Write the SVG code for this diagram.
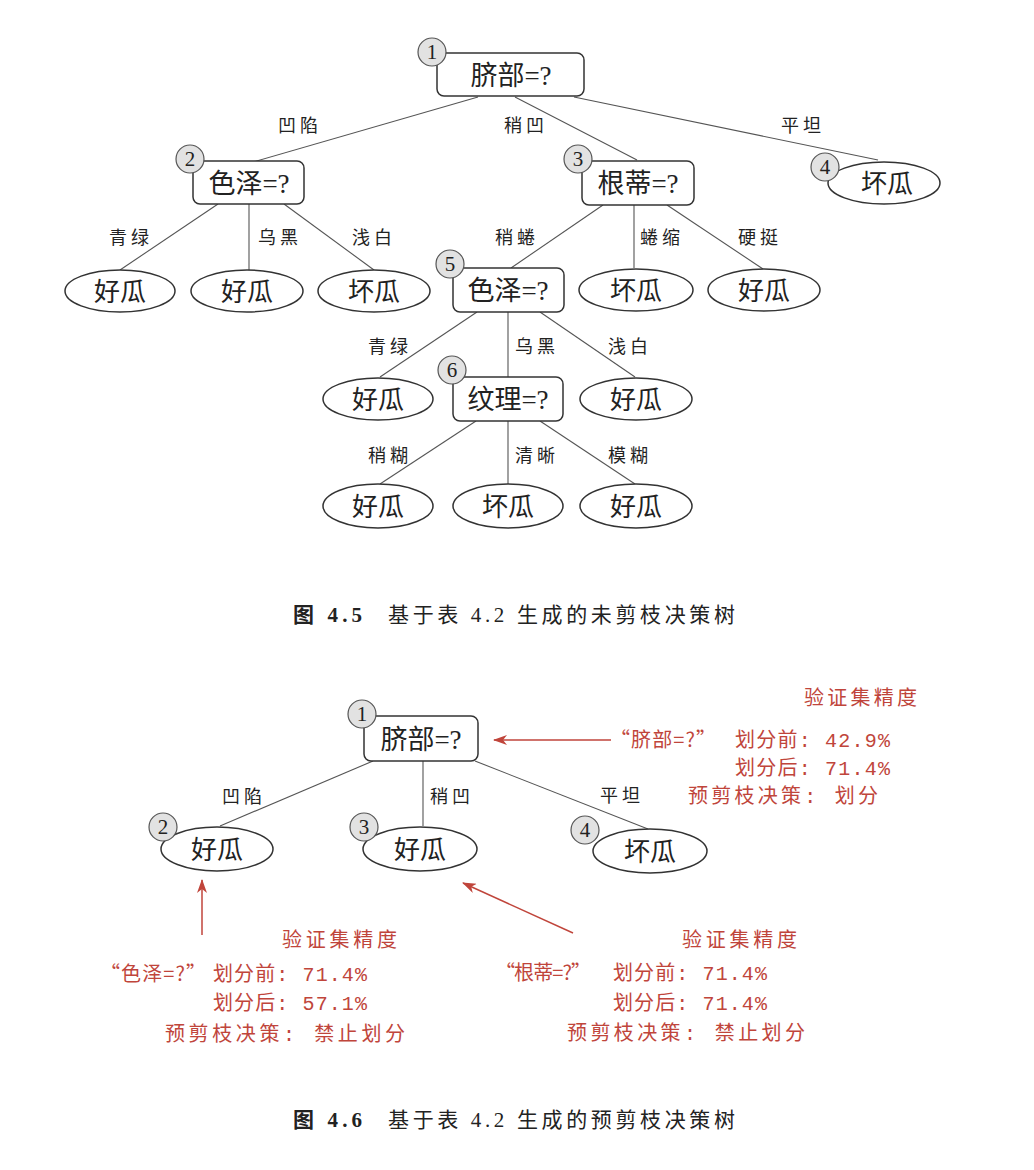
<svg xmlns="http://www.w3.org/2000/svg" width="1034" height="1170" viewBox="0 0 1034 1170">
<style>
.bg{fill:#fff}
.box{fill:#fff;stroke:#333;stroke-width:1.5}
.leaf{fill:#fff;stroke:#333;stroke-width:1.5}
.num{fill:#e2e2e2;stroke:#555;stroke-width:1.2}
.numt{font-family:"Liberation Serif",serif;font-size:21px;fill:#222;text-anchor:middle}
.nt{font-family:"Liberation Serif","Noto Sans CJK SC",serif;font-size:27px;fill:#222;text-anchor:middle}
.lt{font-family:"Noto Sans CJK SC",sans-serif;font-size:26px;fill:#222;text-anchor:middle}
.el{font-family:"Noto Sans CJK SC",sans-serif;font-size:18px;fill:#222;letter-spacing:4px}
.edge{stroke:#555;stroke-width:1.1;fill:none}
.red{font-family:"Liberation Mono","Noto Sans CJK SC",monospace;font-size:20px;fill:#c0453b}
.redq{font-family:"Noto Sans CJK SC",sans-serif;font-size:20px;fill:#c0453b}
.rarrow{stroke:#c0453b;stroke-width:1.5;fill:none}
.cap{font-family:"Liberation Serif","Noto Sans CJK SC",serif;font-size:21px;fill:#222}
.capb{font-family:"Liberation Serif","Noto Sans CJK SC",serif;font-size:21px;fill:#222;font-weight:bold}
</style>
<defs>
<marker id="ra" markerWidth="14" markerHeight="10" refX="13" refY="5" orient="auto" markerUnits="userSpaceOnUse">
<path d="M0,0 L14,5 L0,10 L4,5 Z" fill="#c0453b"/>
</marker>
</defs>
<rect class="bg" x="0" y="0" width="1034" height="1170"/>

<!-- ========== Figure 4.5 ========== -->
<g id="edges45">
<line class="edge" x1="478" y1="97" x2="253" y2="162"/>
<line class="edge" x1="515" y1="97" x2="637" y2="160"/>
<line class="edge" x1="574" y1="97" x2="878" y2="160"/>
<line class="edge" x1="218" y1="204" x2="120" y2="270"/>
<line class="edge" x1="249" y1="204" x2="249" y2="270"/>
<line class="edge" x1="284" y1="204" x2="374" y2="270"/>
<line class="edge" x1="603" y1="205" x2="511" y2="268"/>
<line class="edge" x1="634" y1="205" x2="634" y2="268"/>
<line class="edge" x1="667" y1="205" x2="763" y2="269"/>
<line class="edge" x1="477" y1="312" x2="380" y2="377"/>
<line class="edge" x1="508" y1="312" x2="508" y2="377"/>
<line class="edge" x1="540" y1="312" x2="635" y2="377"/>
<line class="edge" x1="476" y1="421" x2="380" y2="484"/>
<line class="edge" x1="508" y1="421" x2="508" y2="484"/>
<line class="edge" x1="540" y1="421" x2="635" y2="484"/>
<text class="el" x="278" y="132">凹陷</text>
<text class="el" x="504" y="132">稍凹</text>
<text class="el" x="781" y="132">平坦</text>
<text class="el" x="109" y="244">青绿</text>
<text class="el" x="258" y="244">乌黑</text>
<text class="el" x="352" y="244">浅白</text>
<text class="el" x="495" y="244">稍蜷</text>
<text class="el" x="640" y="244">蜷缩</text>
<text class="el" x="738" y="244">硬挺</text>
<text class="el" x="368" y="353">青绿</text>
<text class="el" x="515" y="353">乌黑</text>
<text class="el" x="608" y="353">浅白</text>
<text class="el" x="368" y="462">稍糊</text>
<text class="el" x="515" y="462">清晰</text>
<text class="el" x="608" y="462">模糊</text>
</g>

<g id="n45_1">
<rect class="box" x="437" y="53" width="147" height="43" rx="7"/>
<text class="nt" x="511" y="85">脐部=?</text>
<circle class="num" cx="432" cy="52" r="14"/>
<text class="numt" x="432" y="59">1</text>
</g>
<g id="n45_2">
<rect class="box" x="193" y="161" width="111" height="43" rx="7"/>
<text class="nt" x="249" y="193">色泽=?</text>
<circle class="num" cx="190" cy="159" r="14"/>
<text class="numt" x="190" y="166">2</text>
</g>
<g id="n45_3">
<rect class="box" x="582" y="161" width="112" height="44" rx="7"/>
<text class="nt" x="638" y="193">根蒂=?</text>
<circle class="num" cx="578" cy="159" r="14"/>
<text class="numt" x="578" y="166">3</text>
</g>
<g id="n45_4">
<ellipse class="leaf" cx="884" cy="183" rx="56" ry="21"/>
<text class="lt" x="887" y="193">坏瓜</text>
<circle class="num" cx="825" cy="167" r="14"/>
<text class="numt" x="825" y="174">4</text>
</g>
<g id="n45_l1">
<ellipse class="leaf" cx="120" cy="291" rx="55" ry="21"/>
<text class="lt" x="120" y="301">好瓜</text>
</g>
<g id="n45_l2">
<ellipse class="leaf" cx="247" cy="291" rx="56" ry="21"/>
<text class="lt" x="247" y="301">好瓜</text>
</g>
<g id="n45_l3">
<ellipse class="leaf" cx="374" cy="291" rx="56" ry="21"/>
<text class="lt" x="374" y="301">坏瓜</text>
</g>
<g id="n45_5">
<rect class="box" x="453" y="268" width="111" height="44" rx="7"/>
<text class="nt" x="508" y="300">色泽=?</text>
<circle class="num" cx="450" cy="264" r="14"/>
<text class="numt" x="450" y="271">5</text>
</g>
<g id="n45_l4">
<ellipse class="leaf" cx="636" cy="290" rx="57" ry="21"/>
<text class="lt" x="636" y="300">坏瓜</text>
</g>
<g id="n45_l5">
<ellipse class="leaf" cx="764" cy="290" rx="56" ry="21"/>
<text class="lt" x="764" y="300">好瓜</text>
</g>
<g id="n45_l6">
<ellipse class="leaf" cx="378" cy="399" rx="55" ry="21"/>
<text class="lt" x="378" y="409">好瓜</text>
</g>
<g id="n45_6">
<rect class="box" x="453" y="377" width="110" height="44" rx="7"/>
<text class="nt" x="508" y="409">纹理=?</text>
<circle class="num" cx="452" cy="370" r="14"/>
<text class="numt" x="452" y="377">6</text>
</g>
<g id="n45_l7">
<ellipse class="leaf" cx="636" cy="399" rx="56" ry="21"/>
<text class="lt" x="636" y="409">好瓜</text>
</g>
<g id="n45_l8">
<ellipse class="leaf" cx="378" cy="506" rx="55" ry="22"/>
<text class="lt" x="378" y="516">好瓜</text>
</g>
<g id="n45_l9">
<ellipse class="leaf" cx="508" cy="506" rx="55" ry="22"/>
<text class="lt" x="508" y="516">坏瓜</text>
</g>
<g id="n45_l10">
<ellipse class="leaf" cx="636" cy="506" rx="56" ry="22"/>
<text class="lt" x="636" y="516">好瓜</text>
</g>

<g id="cap45">
<text class="capb" x="293" y="622" textLength="69" lengthAdjust="spacing">图 4.5</text>
<text class="cap" x="388" y="622" textLength="347" lengthAdjust="spacing">基于表 4.2 生成的未剪枝决策树</text>
</g>

<!-- ========== Figure 4.6 ========== -->
<g id="edges46">
<line class="edge" x1="373" y1="761" x2="220" y2="826"/>
<line class="edge" x1="423" y1="761" x2="423" y2="826"/>
<line class="edge" x1="475" y1="761" x2="648" y2="829"/>
<text class="el" x="222" y="803">凹陷</text>
<text class="el" x="430" y="803">稍凹</text>
<text class="el" x="600" y="802">平坦</text>
</g>

<g id="n46_1">
<rect class="box" x="364" y="716" width="114" height="45" rx="7"/>
<text class="nt" x="421" y="749">脐部=?</text>
<circle class="num" cx="362" cy="714" r="14"/>
<text class="numt" x="362" y="721">1</text>
</g>
<g id="n46_2">
<ellipse class="leaf" cx="217" cy="849" rx="56" ry="22"/>
<text class="lt" x="217" y="859">好瓜</text>
<circle class="num" cx="163" cy="827" r="14"/>
<text class="numt" x="163" y="834">2</text>
</g>
<g id="n46_3">
<ellipse class="leaf" cx="420" cy="849" rx="57" ry="22"/>
<text class="lt" x="420" y="859">好瓜</text>
<circle class="num" cx="364" cy="827" r="14"/>
<text class="numt" x="364" y="834">3</text>
</g>
<g id="n46_4">
<ellipse class="leaf" cx="650" cy="851" rx="57" ry="22"/>
<text class="lt" x="650" y="861">坏瓜</text>
<circle class="num" cx="585" cy="830" r="14"/>
<text class="numt" x="585" y="837">4</text>
</g>

<g id="annotations">
<line class="rarrow" x1="611" y1="740" x2="494" y2="740" marker-end="url(#ra)"/>
<line class="rarrow" x1="202" y1="935" x2="202" y2="880" marker-end="url(#ra)"/>
<line class="rarrow" x1="573" y1="933" x2="463" y2="883" marker-end="url(#ra)"/>

<text class="red" x="804" y="705" textLength="113" lengthAdjust="spacing">验证集精度</text>
<text class="redq" x="610" y="747" textLength="106" lengthAdjust="spacing">“脐部=?”</text>
<text class="red" x="735" y="747" textLength="155" lengthAdjust="spacing">划分前: 42.9%</text>
<text class="red" x="735" y="775" textLength="155" lengthAdjust="spacing">划分后: 71.4%</text>
<text class="red" x="688" y="803" textLength="190" lengthAdjust="spacing">预剪枝决策: 划分</text>

<text class="red" x="282" y="947" textLength="115" lengthAdjust="spacing">验证集精度</text>
<text class="redq" x="100" y="981" textLength="106" lengthAdjust="spacing">“色泽=?”</text>
<text class="red" x="213" y="981" textLength="154" lengthAdjust="spacing">划分前: 71.4%</text>
<text class="red" x="213" y="1010" textLength="154" lengthAdjust="spacing">划分后: 57.1%</text>
<text class="red" x="165" y="1041" textLength="240" lengthAdjust="spacing">预剪枝决策: 禁止划分</text>

<text class="red" x="682" y="947" textLength="115" lengthAdjust="spacing">验证集精度</text>
<text class="redq" x="495" y="980" textLength="96" lengthAdjust="spacing">“根蒂=?”</text>
<text class="red" x="613" y="980" textLength="154" lengthAdjust="spacing">划分前: 71.4%</text>
<text class="red" x="613" y="1010" textLength="154" lengthAdjust="spacing">划分后: 71.4%</text>
<text class="red" x="567" y="1040" textLength="238" lengthAdjust="spacing">预剪枝决策: 禁止划分</text>
</g>

<g id="cap46">
<text class="capb" x="293" y="1127" textLength="69" lengthAdjust="spacing">图 4.6</text>
<text class="cap" x="388" y="1127" textLength="347" lengthAdjust="spacing">基于表 4.2 生成的预剪枝决策树</text>
</g>
</svg>
